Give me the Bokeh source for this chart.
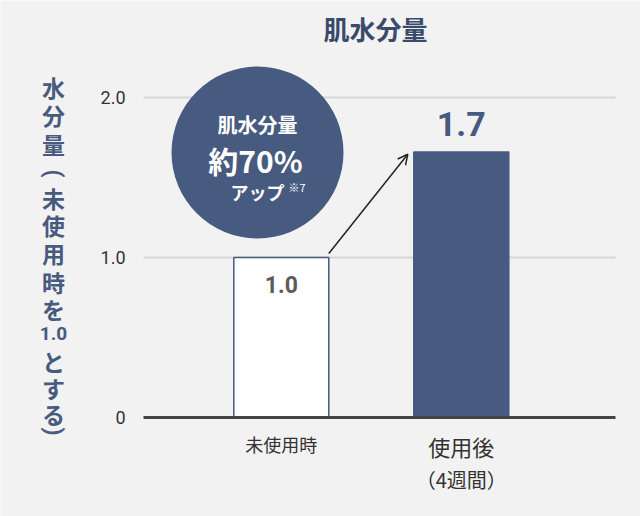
import math
from bokeh.plotting import figure
from bokeh.models import Arrow, OpenHead, Range1d
from bokeh.core.properties import value
from bokeh.embed import file_html
from bokeh.resources import INLINE

# ---- data ----
categories = ["未使用時", "使用後"]
category_sub = ["", "（4週間）"]
values = [1.0, 1.66]
value_labels = ["1.0", "1.7"]
y_ticks = [0, 1, 2]
y_tick_labels = ["0", "1.0", "2.0"]
title_text = "肌水分量"
y_label_text = ["水", "分", "量", "(", "未", "使", "用", "時", "を", "1.0", "と", "す", "る", ")"]
badge_lines = ["肌水分量", "約70%", "アップ", "※7"]

NAVY = "#475a7f"
BG = "#f2f2f2"
JP = "Noto Sans CJK JP"
NUM = "Roboto"

W, H = 640, 516
FL, FR, FB = 143, 615, 417
PXX = 180.0   # px per x unit
PXY = 160.0   # px per y unit
x0 = 1 - (280.8 - FL) / PXX


def X(px):
    return x0 + (px - FL) / PXX


def Y(py):
    return (FB - py) / PXY


p = figure(width=W, height=H, output_backend="svg", toolbar_location=None,
           x_range=Range1d(X(0), X(W)), y_range=Range1d(Y(H), Y(0)),
           min_border=0)
p.background_fill_color = BG
p.border_fill_color = BG
p.outline_line_color = None
p.axis.visible = False
p.grid.visible = False


def txt(x, y, t, font=JP, size="18px", color="#333333", style="normal",
        align="center", angle=0.0):
    p.text(x=[x], y=[y], text=[t], text_align=align, text_baseline="middle",
           text_font=value(font), text_font_size=size, text_color=color,
           text_font_style=style, angle=angle)


# grid lines
grid_ticks = [t for t in y_ticks if t != 0]
p.segment(x0=[X(FL)] * len(grid_ticks), x1=[X(FR)] * len(grid_ticks),
          y0=grid_ticks, y1=grid_ticks, line_color="#d6d6d6", line_width=2)

# tick labels
p.text(x=[X(125)] * len(y_ticks), y=y_ticks, text=y_tick_labels,
       text_align="right", text_baseline="middle", text_font=value(NUM),
       text_font_size="18px", text_color="#333333")

# bars
xs = [i + 1 for i in range(len(categories))]
bw = 95 / PXX
p.vbar(x=xs, top=values, width=bw, bottom=0,
       fill_color=["#ffffff", NAVY], line_color=NAVY, line_width=1.5)

# baseline axis
p.segment(x0=[X(FL)], x1=[X(FR)], y0=[0], y1=[0], line_color="#444444", line_width=3)

# value labels
txt(xs[0], values[0] - 0.17, value_labels[0], font=NUM, size="23px",
    color="#5b5b5b", style="bold")
txt(xs[1], values[1] + 0.175, value_labels[1], font=NUM, size="34px",
    color=NAVY, style="bold")

# arrow
p.add_layout(Arrow(x_start=xs[0] + bw / 2, y_start=values[0] + 0.025,
                   x_end=xs[1] - bw / 2 - 6 / PXX, y_end=values[1] - 0.015,
                   line_color="#222222", line_width=1.5,
                   end=OpenHead(size=10, line_color="#222222", line_width=1.5)))

# badge circle
p.scatter(x=[X(257)], y=[Y(152)], size=172, marker="circle",
          fill_color=NAVY, line_color=None)
txt(X(257), Y(124), badge_lines[0], size="20px", color="white", style="bold")
txt(X(255), Y(159), badge_lines[1], size="30px", color="white", style="bold")
txt(X(257), Y(191), badge_lines[2], size="18px", color="white", style="bold")
txt(X(288), Y(186), badge_lines[3], size="11px", color="white", align="left")

# title
txt(X(375), Y(28), title_text, size="26px", color="#3a4a6b", style="bold")

# category labels
txt(xs[0], Y(443), categories[0], size="18px")
txt(xs[1], Y(445), categories[1], size="22px")
txt(xs[1], Y(479), category_sub[1], size="20px")

# vertical y label (upright stacked characters, brackets turned)
ypos = [86, 114, 143, 173, 197, 224, 252, 281, 308, 333, 360, 387, 413, 431]
for ch, py in zip(y_label_text, ypos):
    is_num = ch == "1.0"
    is_br = ch in ("(", ")")
    txt(X(53), Y(py), ch, font=NUM if (is_num or is_br) else JP,
        size="19px" if is_num else "23px", color=NAVY, style="bold",
        angle=-math.pi / 2 if is_br else 0.0)

open("out.html", "w").write(file_html(p, INLINE))
